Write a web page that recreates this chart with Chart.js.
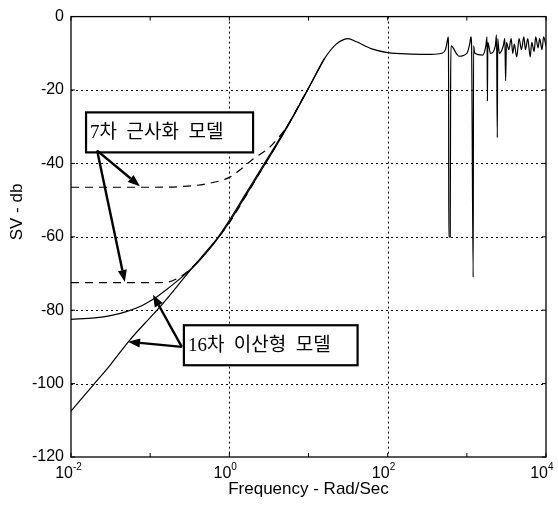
<!DOCTYPE html>
<html>
<head>
<meta charset="utf-8">
<script src="https://cdn.jsdelivr.net/npm/chart.js@4"></script>
<style>body{margin:0;background:#fff}</style>
</head>
<body>
<canvas id="svChart" width="558" height="517"></canvas>
<script>
// frequencies are given as log10(rad/sec)
const fullLogF = [-2, -1.7, -1.5, -1.3, -1.1, -1.0, -0.9, -0.8, -0.6, -0.4, -0.2, 0, 0.2, 0.4, 0.6, 0.8, 1.0, 1.2, 1.35, 1.45, 1.5, 1.6, 1.8, 2.0, 2.3, 2.55, 2.68, 2.73, 2.755, 2.765, 2.77, 2.772, 2.79, 2.795, 2.8, 2.9, 3.0, 3.04, 3.05, 3.06, 3.08, 3.085, 3.1, 3.2, 3.24, 3.255, 3.26, 3.265, 3.3, 3.36, 3.375, 3.385, 3.39, 3.41, 3.46, 3.48, 3.49, 3.5, 3.53, 3.56, 3.58, 3.6, 3.63, 3.66, 3.69, 3.72, 3.74, 3.77, 3.8, 3.82, 3.85, 3.87, 3.9, 3.92, 3.95, 3.97, 4.0];
const fullDb = [-82.5, -82.1, -81.5, -80.4, -78.7, -77.5, -76.1, -74.5, -71, -67, -62, -56, -49, -42, -35, -27.5, -19.5, -11.5, -7.5, -6.2, -6, -6.8, -8.8, -9.8, -10.2, -10.3, -10, -9, -6.5, -5.5, -20, -60, -60, -20, -8, -10.8, -10, -7, -5.5, -8, -71, -8, -10, -10.5, -8, -5.5, -23, -7, -10, -8, -5, -33, -6, -10, -8, -6, -17.5, -7, -9, -6, -10, -7.5, -11, -6, -9, -5.5, -9, -6, -11, -7, -9.5, -5.5, -8.5, -6, -9, -5.5, -8];

const discLogF = [-2, -1.72, -1.5, -1.26, -1.0, -0.88, -0.5, -0.28, -0.16, 0, 0.2, 0.4, 0.6, 0.8, 1.0, 1.2];
const discDb = [-107.5, -100.4, -94.8, -88.2, -82, -79.2, -69.3, -63.7, -60.6, -55.5, -48.5, -41.5, -34.5, -27.3, -19.5, -11.5];

const approxALogF = [-2, -1.5, -1.0, -0.6, -0.3, 0, 0.15, 0.3, 0.5, 0.62, 0.75, 0.9, 1.0];
const approxADb = [-46.5, -46.5, -46.5, -46.3, -45.6, -43.8, -41.5, -38.8, -35.8, -33, -29.2, -23.3, -19.5];

const approxBLogF = [-2, -1.5, -1.0, -0.8, -0.6, -0.4, -0.2, 0, 0.2, 0.4, 0.6, 0.8, 1.0];
const approxBDb = [-72.5, -72.5, -72.5, -72.4, -70.6, -66.8, -61.8, -56.2, -49.2, -42, -34.8, -27.4, -19.5];

const xTickExp = [-2, 0, 2, 4];
const yTicks = [0, -20, -40, -60, -80, -100, -120];

const boxes = [
    { text: '7차  근사화  모델', x0: -1.81, x1: 0.3, y0: -26.1, y1: -37,
      arrows: [[-1.67, -36.5, -1.13, -46.2], [-1.67, -36.5, -1.32, -72.3]] },
    { text: '16차  이산형  모델', x0: -0.574, x1: 1.62, y0: -84.1, y1: -95,
      arrows: [[-0.6, -90, -0.965, -75.8], [-0.6, -90, -1.28, -88.6]] }
];

function toPoints(logF, db) {
    return logF.map((e, i) => ({ x: Math.pow(10, e), y: db[i] }));
}

const labelFont = '"Liberation Sans", Arial, sans-serif';
const koreanFont = '"Liberation Serif", "Noto Sans CJK KR", serif';

const framePlugin = {
    id: 'frame',
    beforeDatasetsDraw(chart) {
        const { ctx, chartArea: a, scales: { x, y } } = chart;
        ctx.save();
        ctx.strokeStyle = '#000';
        ctx.lineWidth = 1;
        ctx.setLineDash([2, 3]);
        yTicks.forEach(v => {
            if (v === 0 || v === -120) return;
            const py = Math.round(y.getPixelForValue(v)) + 0.5;
            ctx.beginPath(); ctx.moveTo(a.left, py); ctx.lineTo(a.right, py); ctx.stroke();
        });
        [0, 2].forEach(e => {
            const px = Math.round(x.getPixelForValue(Math.pow(10, e))) + 0.5;
            ctx.beginPath(); ctx.moveTo(px, a.top); ctx.lineTo(px, a.bottom); ctx.stroke();
        });
        ctx.restore();
    },
    afterDraw(chart) {
        const { ctx, chartArea: a, scales: { x, y } } = chart;
        const px = e => x.getPixelForValue(Math.pow(10, e));
        const py = v => y.getPixelForValue(v);
        ctx.save();
        ctx.strokeStyle = '#000';
        ctx.fillStyle = '#000';
        ctx.lineWidth = 1.3;
        ctx.strokeRect(a.left, a.top, a.right - a.left, a.bottom - a.top);

        // small inner ticks
        ctx.lineWidth = 1;
        for (let e = -2; e <= 4; e++) {
            const p = px(e);
            ctx.beginPath();
            ctx.moveTo(p, a.bottom); ctx.lineTo(p, a.bottom - 4);
            ctx.moveTo(p, a.top); ctx.lineTo(p, a.top + 4);
            ctx.stroke();
        }
        yTicks.forEach(v => {
            const p = py(v);
            ctx.beginPath();
            ctx.moveTo(a.left, p); ctx.lineTo(a.left + 4, p);
            ctx.moveTo(a.right, p); ctx.lineTo(a.right - 4, p);
            ctx.stroke();
        });

        // x tick labels 10^n
        ctx.textBaseline = 'alphabetic';
        xTickExp.forEach(e => {
            const p = px(e);
            ctx.font = '16px ' + labelFont;
            ctx.textAlign = 'right';
            ctx.fillText('10', p + 2, a.bottom + 21);
            ctx.font = '10px ' + labelFont;
            ctx.textAlign = 'left';
            ctx.fillText(e === 0 ? '0' : (e < 0 ? '-' : '') + Math.abs(e), p + 2, a.bottom + 13);
        });

        // axis titles
        ctx.font = '17px ' + labelFont;
        ctx.textAlign = 'center';
        ctx.textBaseline = 'middle';
        ctx.fillText('Frequency - Rad/Sec', (a.left + a.right) / 2, 489);
        ctx.save();
        ctx.translate(17, 212);
        ctx.rotate(-Math.PI / 2);
        ctx.fillText('SV - db', 0, 0);
        ctx.restore();

        // annotation boxes and arrows
        boxes.forEach(b => {
            const bx = px(b.x0), by = py(b.y0), bw = px(b.x1) - bx, bh = py(b.y1) - by;
            ctx.fillStyle = '#fff';
            ctx.fillRect(bx, by, bw, bh);
            ctx.fillStyle = '#000';
            ctx.lineWidth = 2.2;
            ctx.strokeRect(bx, by, bw, bh);
            ctx.font = '19px ' + koreanFont;
            ctx.textAlign = 'left';
            ctx.textBaseline = 'middle';
            ctx.fillText(b.text, bx + 4, by + bh / 2 + 1);
            b.arrows.forEach(ar => {
                const x0 = px(ar[0]), y0 = py(ar[1]), x1 = px(ar[2]), y1 = py(ar[3]);
                const ang = Math.atan2(y1 - y0, x1 - x0);
                const hl = 12, hw = 4.5;
                const bxp = x1 - hl * Math.cos(ang), byp = y1 - hl * Math.sin(ang);
                ctx.lineWidth = 2.4;
                ctx.beginPath(); ctx.moveTo(x0, y0); ctx.lineTo(bxp, byp); ctx.stroke();
                ctx.beginPath();
                ctx.moveTo(x1, y1);
                ctx.lineTo(bxp + hw * Math.sin(ang), byp - hw * Math.cos(ang));
                ctx.lineTo(bxp - hw * Math.sin(ang), byp + hw * Math.cos(ang));
                ctx.closePath();
                ctx.fill();
            });
        });
        ctx.restore();
    }
};

const lineStyle = { borderColor: '#000', borderWidth: 1.2, pointRadius: 0, fill: false, tension: 0 };

new Chart(document.getElementById('svChart').getContext('2d'), {
    type: 'line',
    data: {
        datasets: [
            Object.assign({ label: 'full', data: toPoints(fullLogF, fullDb), cubicInterpolationMode: 'monotone' }, lineStyle),
            Object.assign({ label: '16th discrete', data: toPoints(discLogF, discDb), cubicInterpolationMode: 'monotone' }, lineStyle),
            Object.assign({ label: '7th approx A', data: toPoints(approxALogF, approxADb), borderDash: [8, 6], cubicInterpolationMode: 'monotone' }, lineStyle),
            Object.assign({ label: '7th approx B', data: toPoints(approxBLogF, approxBDb), borderDash: [8, 6], cubicInterpolationMode: 'monotone' }, lineStyle)
        ]
    },
    options: {
        responsive: false,
        animation: false,
        events: [],
        layout: { padding: { top: 16, right: 12, left: 0, bottom: 0 } },
        plugins: { legend: { display: false }, tooltip: { enabled: false } },
        scales: {
            x: {
                type: 'logarithmic',
                min: 0.01,
                max: 10000,
                grid: { display: false },
                border: { display: false },
                ticks: { display: false },
                afterFit(scale) { scale.height = 60; }
            },
            y: {
                type: 'linear',
                min: -120,
                max: 0,
                grid: { display: false, drawTicks: false },
                border: { display: false },
                ticks: {
                    stepSize: 20,
                    padding: 7,
                    color: '#000',
                    font: { family: labelFont, size: 16 }
                },
                afterFit(scale) { scale.width = 71; }
            }
        }
    },
    plugins: [framePlugin]
});
</script>
</body>
</html>
